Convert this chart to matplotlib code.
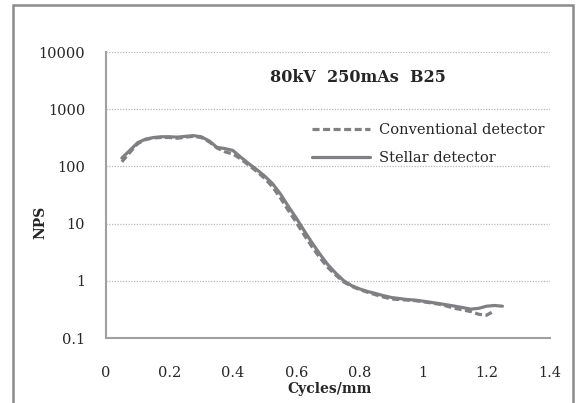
import matplotlib
matplotlib.use("Agg")
import matplotlib.pyplot as plt
from matplotlib.patches import Rectangle

# Data
x_stellar = [0.05, 0.075, 0.10, 0.125, 0.15, 0.175, 0.20, 0.225, 0.25, 0.275, 0.30, 0.325,
             0.35, 0.375, 0.40, 0.425, 0.45, 0.475, 0.50, 0.525, 0.55, 0.575, 0.60, 0.625,
             0.65, 0.675, 0.70, 0.725, 0.75, 0.775, 0.80, 0.825, 0.85, 0.875, 0.90, 0.925,
             0.95, 0.975, 1.00, 1.025, 1.05, 1.075, 1.10, 1.125, 1.15, 1.175, 1.20, 1.225, 1.25]
y_stellar = [140, 190, 260, 300, 320, 330, 330, 325, 335, 345, 330, 280,
             215, 205, 190, 145, 112, 88, 68, 50, 33, 20, 12.5, 7.5,
             4.6, 2.9, 1.9, 1.35, 1.0, 0.82, 0.72, 0.65, 0.60, 0.55, 0.51, 0.49,
             0.47, 0.46, 0.44, 0.42, 0.40, 0.38, 0.36, 0.34, 0.32, 0.33, 0.36, 0.37, 0.36]

x_conv = [0.05, 0.075, 0.10, 0.125, 0.15, 0.175, 0.20, 0.225, 0.25, 0.275, 0.30, 0.325,
          0.35, 0.375, 0.40, 0.425, 0.45, 0.475, 0.50, 0.525, 0.55, 0.575, 0.60, 0.625,
          0.65, 0.675, 0.70, 0.725, 0.75, 0.775, 0.80, 0.825, 0.85, 0.875, 0.90, 0.925,
          0.95, 0.975, 1.00, 1.025, 1.05, 1.075, 1.10, 1.125, 1.15, 1.175, 1.20, 1.225]
y_conv = [120, 175, 250, 295, 315, 320, 320, 310, 325, 335, 320, 270,
          210, 180, 165, 135, 105, 82, 62, 44, 28, 17, 10.5, 6.3,
          3.9, 2.5, 1.7, 1.25, 0.95, 0.80, 0.70, 0.63, 0.57, 0.52, 0.48, 0.47,
          0.46, 0.45, 0.43, 0.41, 0.39, 0.36, 0.33, 0.31, 0.29, 0.26, 0.25, 0.30]

x_ticks = [0, 0.2, 0.4, 0.6, 0.8, 1, 1.2, 1.4]
x_ticklabels = ["0", "0.2", "0.4", "0.6", "0.8", "1", "1.2", "1.4"]
y_ticks = [0.1, 1, 10, 100, 1000, 10000]
y_ticklabels = ["0.1", "1", "10", "100", "1000", "10000"]

title = "80kV  250mAs  B25"
label_conv = "Conventional detector"
label_stellar = "Stellar detector"

plt.rcParams['font.family'] = ['DejaVu Serif']
text_color = "#262626"
line_color = "#808084"

fig = plt.figure(figsize=(5.76, 4.03), dpi=100)
W, H = 576, 403
ax = fig.add_axes([106 / W, 1 - 338 / H, (550 - 106) / W, (338 - 52) / H])

ax.plot(x_conv, y_conv, color=line_color, lw=2.3, ls=(0, (2.2, 1.1)), label=label_conv)
ax.plot(x_stellar, y_stellar, color=line_color, lw=2.3, ls='-', label=label_stellar,
        solid_capstyle='round')

ax.set_yscale('log')
ax.set_xlim(0, 1.4)
ax.set_ylim(0.1, 10000)
ax.set_xticks(x_ticks)
ax.set_xticklabels(x_ticklabels)
ax.set_yticks(y_ticks)
ax.set_yticklabels(y_ticklabels)
ax.yaxis.set_minor_locator(matplotlib.ticker.NullLocator())
ax.tick_params(axis='both', length=0, labelsize=10.5, colors=text_color)
ax.tick_params(axis='y', pad=15)
ax.tick_params(axis='x', pad=20)

ax.grid(axis='y', which='major', color='#b8b8b8', ls=(0, (1, 1.2)), lw=0.9)
for s in ['top', 'right']:
    ax.spines[s].set_visible(False)
for s in ['left', 'bottom']:
    ax.spines[s].set_color('#a0a0a0')
    ax.spines[s].set_linewidth(1.5)

fig.text(358 / W, 1 - 77 / H, title, ha='center', va='center', fontsize=11.5,
         fontweight='bold', color=text_color)
fig.text(40 / W, 1 - 222 / H, "NPS", ha='center', va='center', rotation=90,
         fontsize=10, fontweight='bold', color=text_color)
fig.text(330 / W, 1 - 389 / H, "Cycles/mm", ha='center', va='center',
         fontsize=10, fontweight='bold', color=text_color)

leg = ax.legend(loc='upper left', bbox_to_anchor=((306 - 106) / 444, 1 - (117 - 52) / 286),
                frameon=False, fontsize=10.5, handlelength=4.0, handletextpad=0.6,
                labelspacing=1.0, borderaxespad=0)
for t in leg.get_texts():
    t.set_color(text_color)

fig.patches.append(Rectangle((13 / W, -0.05), (573 - 13) / W, 1 - 5 / H + 0.05,
                             transform=fig.transFigure, fill=False,
                             edgecolor='#8c8c8c', lw=1.8))

fig.savefig("out.png", dpi=100)
